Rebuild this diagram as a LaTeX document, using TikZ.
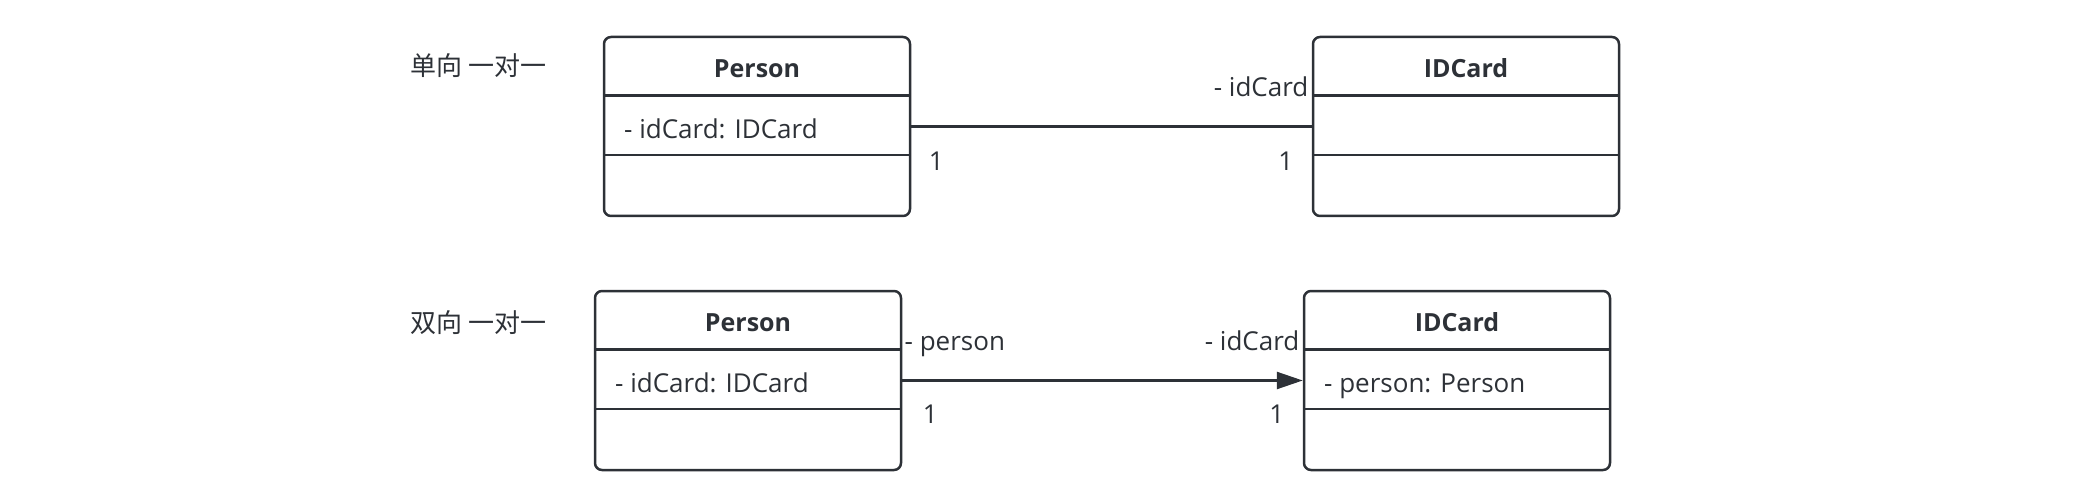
\documentclass[tikz,border=0pt]{standalone}
\usepackage{fontspec}
\setmainfont{Open Sans}
\newfontfamily\cjk{Noto Sans CJK SC}
\usetikzlibrary{arrows.meta,positioning,calc}
\definecolor{umlline}{RGB}{45,49,55}
\definecolor{umltext}{RGB}{45,49,55}
\tikzset{
  umlBox/.style={draw=umlline, line width=1.25pt, rounded corners=3.5pt, fill=white,
                 minimum width=153pt, minimum height=89.5pt, inner sep=0pt},
  umlText/.style={font=\fontsize{13}{15}\selectfont, text=umltext, inner sep=0pt,
                  text height=12pt, text depth=0pt},
  umlTitle/.style={umlText, font=\fontsize{12.5}{15}\selectfont\bfseries},
  umlAttr/.style={umlText, anchor=west},
  umlRole/.style={umlText},
  umlNote/.style={umlText, font=\cjk\fontsize{13}{15}\selectfont, anchor=west},
  umlRule/.style={draw=umlline, line width=1.25pt},
  umlLink/.style={draw=umlline, line width=1.25pt},
  umlNav/.style={umlLink, -{Triangle[length=13pt,width=8.5pt]}}
}

\begin{document}
\begin{tikzpicture}[x=0.5pt,y=-0.5pt]
  \useasboundingbox (0,0) rectangle (2074,492);

  % one-way one-to-one
  \node[umlNote] (oneway) at (410,63.5) {单向 一对一};
  \node[umlBox] (personA) at (757,126.5) {};
  \node[umlBox] (cardA) at (1466,126.5) {};
  \node[umlTitle] (personAname) at ($(personA.north)+(0,29.85)$) {Person};
  \node[umlTitle] (cardAname) at ($(cardA.north)+(0,29.85)$) {IDCard};
  \node[umlAttr] (personAattr) at ($(personA.west)+(21,0)$) {- idCard: IDCard};

  % two-way one-to-one
  \node[umlNote] (twoway) at (410,320) {双向 一对一};
  \node[umlBox] (personB) at (748,380.5) {};
  \node[umlBox] (cardB) at (1457,380.5) {};
  \node[umlTitle] (personBname) at ($(personB.north)+(0,29.85)$) {Person};
  \node[umlTitle] (cardBname) at ($(cardB.north)+(0,29.85)$) {IDCard};
  \node[umlAttr] (personBattr) at ($(personB.west)+(21,0)$) {- idCard: IDCard};
  \node[umlAttr] (cardBattr) at ($(cardB.west)+(21,0)$) {- person: Person};

  \foreach \b in {personA,cardA,personB,cardB} {
    \draw[umlRule] ($(\b.north west)+(0,59.7)$) -- ($(\b.north east)+(0,59.7)$);
    \draw[umlRule] ($(\b.north west)+(0,119.3)$) -- ($(\b.north east)+(0,119.3)$);
  }

  \draw[umlLink] (personA.east) -- (cardA.west);
  \node[umlRole, anchor=east] (cardArole) at ($(cardA.west)+(-3,-42)$) {- idCard};
  \node[umlRole] (personAmult) at ($(personA.east)+(25,32)$) {1};
  \node[umlRole] (cardAmult) at ($(cardA.west)+(-26,32)$) {1};

  \draw[umlNav] (personB.east) -- (cardB.west);
  \node[umlRole, anchor=west] (personBrole) at ($(personB.east)+(2,-42)$) {- person};
  \node[umlRole, anchor=east] (cardBrole) at ($(cardB.west)+(-3,-42)$) {- idCard};
  \node[umlRole] (personBmult) at ($(personB.east)+(28,31)$) {1};
  \node[umlRole] (cardBmult) at ($(cardB.west)+(-26,31)$) {1};
\end{tikzpicture}
\end{document}
